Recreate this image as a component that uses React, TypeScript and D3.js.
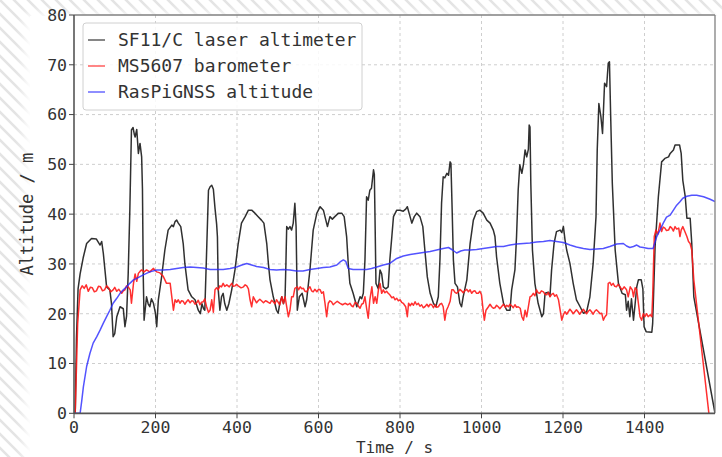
import React from "react";
import * as d3 from "d3";

const xTicks = [0, 200, 400, 600, 800, 1000, 1200, 1400];
const yTicks = [0, 10, 20, 30, 40, 50, 60, 70, 80];
const seriesNames = ["SF11/C laser altimeter", "MS5607 barometer", "RasPiGNSS altitude"];

const laser: [number, number][] = [[0,0],[3,0],[6,15],[10,25],[15,28],[23,31.4],[31,34.1],[43,35.1],[55,35],[64,33.8],[68,34.5],[72,32.1],[80,25.4],[88,24.8],[92,22],[96,15.4],[100,16],[105,19.4],[113,21.4],[121,21],[125,17.4],[129,19.5],[133,28],[137,40.8],[141,56.9],[145,57.4],[148,56],[150,55.5],[154,57],[158,52.2],[162,54.2],[166,51.5],[168,45],[170,27.4],[172,18.7],[178,23.4],[182,22],[186,21.4],[190,23],[195,22.1],[200,20],[203,17.4],[207,22.8],[215,27.4],[223,32.8],[231,36.8],[240,37.8],[244,37.5],[248,38.5],[252,38.8],[256,38.2],[262,37.5],[268,34.1],[272,30.1],[280,24.8],[289,23.4],[297,22.8],[305,20.7],[310,20],[314,22],[318,21],[321,20.7],[326,34],[330,44.8],[334,45.5],[338,45.8],[342,45],[346,41.2],[350,38],[352,35.4],[354,24.8],[358,20.7],[362,23.4],[366,24.1],[370,22],[375,20.7],[380,22],[387,24.8],[395,28.8],[403,34.1],[411,38.2],[420,39.5],[428,40.8],[436,40.8],[444,40.2],[452,39.5],[460,38.8],[466,38.2],[473,34.1],[477,30.1],[481,26.8],[489,23.4],[497,20.7],[501,20.1],[505,22.1],[510,23.4],[514,22],[518,23.4],[520,30],[522,37.5],[526,37],[530,37.5],[534,36.8],[538,38.2],[542,42.2],[545,37.5],[548,20.7],[553,23.4],[560,24.1],[567,21.4],[571,22.8],[579,28.8],[587,36.8],[596,40.2],[604,41.5],[612,40.8],[618,38.8],[622,37.5],[628,39.5],[634,39],[640,39.5],[649,40.2],[657,40.2],[663,39.5],[669,35.5],[673,30.1],[677,26.1],[685,24.1],[694,21.4],[702,23.4],[706,23],[710,24.1],[714,30.8],[718,43.5],[722,42.8],[726,44.8],[730,45.2],[735,48.9],[737,48],[739,37.5],[741,26.1],[747,25],[751,28.8],[755,28],[759,25.4],[765,25],[771,25.4],[775,30.8],[780,35.5],[784,39.5],[792,40.8],[800,40.8],[808,40.6],[814,41],[818,41.5],[823,40],[829,38.2],[835,39.5],[841,40.2],[849,39.5],[856,37.5],[861,32.8],[867,27.4],[874,24.1],[882,22.1],[888,21.4],[894,23.4],[898,30.8],[902,42.2],[906,47.5],[910,47.3],[915,48.2],[919,47.8],[923,50.5],[925,50.2],[928,40.8],[931,30.8],[935,26.1],[941,25.4],[947,22.1],[951,21.4],[955,23.4],[964,26.8],[972,34.1],[980,38.8],[988,40.5],[996,40.8],[1004,40.2],[1013,38.8],[1021,38.2],[1029,36.8],[1033,35.5],[1037,31.4],[1045,26.1],[1054,22.1],[1062,20.7],[1070,20.7],[1074,24.8],[1082,28.8],[1086,35.5],[1090,44.8],[1094,49.9],[1099,48.2],[1103,50],[1107,52.9],[1111,51.5],[1115,53],[1117,57.9],[1119,57.5],[1121,46.2],[1125,32.8],[1131,26.1],[1139,22.1],[1148,19.4],[1152,20],[1156,24.1],[1164,24.3],[1168,23.5],[1172,28.8],[1178,34.1],[1184,36.5],[1193,36.8],[1197,36.3],[1201,37.5],[1205,34.8],[1209,32.8],[1217,30.1],[1225,26.1],[1233,22.8],[1242,21.4],[1250,20.1],[1258,20.4],[1266,23.4],[1274,30.1],[1281,39.5],[1284,52.9],[1288,62.2],[1293,59.6],[1297,56.2],[1302,66.3],[1307,65.6],[1311,70.3],[1314,70.6],[1317,59.6],[1321,46.2],[1328,32.8],[1336,26.1],[1345,24.1],[1353,23.8],[1356,20.7],[1360,22.5],[1364,19.4],[1368,23],[1373,18.7],[1377,22],[1381,25.4],[1385,26.8],[1392,26.8],[1396,25],[1399,17.4],[1404,16.4],[1418,16.3],[1420,18],[1426,33.5],[1434,43.5],[1442,50.5],[1450,51.2],[1459,51.5],[1463,52.2],[1471,52.9],[1475,53.9],[1486,53.9],[1490,52.2],[1494,46.8],[1500,43.5],[1504,39.2],[1512,39.2],[1516,34.1],[1521,23.4],[1573,0]];

const baro: [number, number][] = [[0,0],[3,0],[9,18],[15,24.8],[20,25.6],[25,25.1],[30,25.8],[35,24.5],[40,25.3],[45,25.2],[50,24.4],[55,24.6],[60,25.5],[65,25.4],[70,24.6],[75,24.8],[80,25.6],[85,25.2],[90,24.4],[96,24.8],[100,25.3],[105,24.5],[110,24.9],[117,24.1],[121,24.6],[125,24.8],[129,25.6],[133,25.4],[138,24.8],[141,22.1],[146,26.1],[150,28],[154,26.5],[158,28.1],[162,28.5],[166,28.8],[172,28.4],[178,28.8],[186,28.4],[195,29.1],[203,28.4],[211,28.2],[219,27.5],[227,26.1],[236,26.1],[240,23.4],[244,20.7],[248,22.8],[252,22.3],[256,22.8],[260,22.1],[264,22.6],[268,22.5],[272,21.9],[276,22.4],[280,22.8],[285,22.2],[289,22.6],[293,22.5],[297,21.9],[301,22.2],[305,22.7],[309,21.8],[313,22.3],[317,22.4],[321,23],[325,21.5],[330,20.3],[334,20.7],[338,22.8],[342,20.3],[346,24.8],[350,25.2],[354,24.8],[358,25.6],[362,25.4],[366,26.1],[370,25.5],[375,25.8],[381,25.4],[387,26.1],[391,25.5],[395,25.6],[399,25.9],[403,25.6],[410,25.2],[416,25.4],[420,25.8],[424,25.6],[428,25],[432,22.8],[436,21.4],[440,23.4],[444,22.8],[448,22.2],[452,22.6],[456,22.9],[460,22.6],[465,22.2],[470,22.6],[475,22.4],[481,22.1],[485,22.7],[489,22.4],[493,22],[497,22.8],[505,21.8],[510,23.4],[514,22.1],[518,23.4],[522,21.4],[526,19.4],[530,20.7],[534,23.4],[538,23.4],[542,25.1],[548,25.4],[551,24.8],[555,25.4],[559,25],[563,25.1],[567,24.5],[571,24.4],[575,25],[579,25.4],[583,24.6],[587,24.4],[591,24.9],[596,24.4],[600,24.9],[604,24.8],[608,24.1],[612,24.4],[616,22.1],[620,19.4],[624,22.1],[628,22.6],[632,22.4],[636,21.8],[640,22.1],[646,22.5],[653,22.1],[659,21.8],[665,22.1],[672,21.8],[677,22.1],[681,21.6],[685,21.4],[690,22.3],[694,22.1],[698,21.5],[702,21.1],[706,21.9],[710,22.1],[714,23.4],[718,21.1],[722,19.1],[726,22.8],[731,25.4],[735,22.1],[739,23.4],[743,22.1],[747,24.8],[751,26.1],[755,24.1],[759,24.8],[763,24.2],[767,24.5],[771,24.1],[775,23.8],[780,23.2],[784,23.4],[788,22.8],[792,23.1],[796,22.6],[800,22.8],[804,22.3],[808,22.1],[814,21.4],[818,19.4],[821,22.1],[825,21.6],[829,22.1],[833,21.7],[837,22.4],[841,21.8],[845,22.1],[849,21.5],[853,21.8],[857,21.2],[861,21.4],[866,21.9],[870,21.4],[874,21.9],[878,21.8],[882,21.2],[886,21.8],[890,21.3],[894,21.4],[898,21.9],[902,22.1],[906,21.4],[910,18.7],[914,20.7],[918,21.4],[923,22.5],[927,24.8],[931,24.8],[935,24.3],[939,24.1],[943,24.4],[947,24.9],[951,24.6],[955,24.2],[959,24.6],[964,24.9],[968,24.4],[972,24.8],[976,24.1],[980,24.5],[984,24.6],[988,24.1],[992,24.1],[996,24.5],[1000,23.8],[1004,20.7],[1007,18.7],[1011,20.7],[1017,21.4],[1021,21.9],[1025,21.4],[1029,21.1],[1033,21.2],[1037,21.7],[1041,21.4],[1045,21],[1050,21.5],[1054,21.9],[1058,21.3],[1062,21.7],[1066,21.4],[1070,21.9],[1074,21.6],[1078,21.2],[1082,21.8],[1086,21.3],[1090,21.4],[1095,21.1],[1099,19.4],[1103,18.7],[1107,20.7],[1111,19.4],[1115,21.4],[1119,23.4],[1123,23.6],[1127,24.1],[1131,23.6],[1135,24.8],[1139,24.2],[1143,24.1],[1147,24.6],[1152,24.4],[1156,23.9],[1160,23.8],[1164,24.3],[1168,23.4],[1172,23.9],[1176,24.1],[1180,23.5],[1184,23.8],[1189,22.8],[1193,20.7],[1197,18.7],[1201,19.8],[1205,20.4],[1209,19.9],[1213,20.4],[1217,20.9],[1221,20.5],[1225,20],[1229,20.4],[1233,20.8],[1237,20.4],[1241,19.9],[1246,20.5],[1250,20.9],[1254,20.4],[1258,20],[1262,20.5],[1266,20.8],[1270,20.4],[1274,19.9],[1278,20.5],[1282,20.8],[1287,20.4],[1291,20],[1295,20.1],[1299,18.7],[1303,19.4],[1307,19.8],[1311,26.1],[1315,26.3],[1319,25.7],[1323,26.1],[1327,25.5],[1331,25.4],[1335,25.9],[1340,25.4],[1345,24.8],[1350,25.4],[1356,24.8],[1360,23.4],[1365,25.4],[1370,24.8],[1373,23.4],[1377,25.2],[1381,24.8],[1385,22.1],[1389,19.4],[1393,18.7],[1397,20],[1401,19.4],[1405,20],[1409,19.4],[1414,19.8],[1418,19.4],[1420,23.4],[1424,35.5],[1428,36.8],[1433,36],[1438,38.2],[1442,36.5],[1446,37.4],[1450,37.2],[1454,36.7],[1459,36.8],[1463,37.5],[1467,37.2],[1471,36.6],[1475,37.5],[1479,37],[1484,37.2],[1487,35.5],[1490,36.8],[1494,37.5],[1499,36.5],[1504,35.5],[1508,34.5],[1512,34.1],[1516,32.8],[1521,26.8],[1558,0]];

const gnss: [number, number][] = [[0,0],[15,0],[19,2.5],[23,5.3],[31,9.4],[39,12],[47,14.1],[56,15.4],[64,16.7],[72,18.1],[80,19.4],[88,20.7],[96,22.1],[105,23.1],[113,24.1],[121,24.8],[129,25.4],[137,26.1],[146,26.8],[154,27.1],[170,27.8],[186,28.4],[203,28.8],[219,28.8],[236,28.9],[252,29.1],[268,29.3],[285,29.4],[301,29.3],[317,29.2],[334,28.9],[350,28.9],[366,28.9],[383,29.1],[399,29.4],[412,29.8],[424,30.1],[436,29.8],[448,29.5],[465,29.3],[481,28.9],[497,28.8],[514,28.9],[530,28.8],[546,28.6],[562,28.6],[579,28.9],[596,29.1],[612,29.3],[628,29.4],[645,29.8],[653,30.4],[661,30.8],[667,30.5],[673,29.1],[685,28.9],[702,28.9],[718,28.9],[730,29.1],[743,29.4],[759,29.8],[775,30.1],[792,31.1],[808,31.6],[825,31.9],[841,32.1],[857,32.3],[874,32.5],[890,32.8],[906,33.1],[919,33.3],[929,32.8],[939,32.2],[949,32.6],[959,32.8],[972,32.8],[988,32.9],[1004,33.1],[1021,33.3],[1037,33.5],[1054,33.5],[1070,33.8],[1086,34],[1103,34.1],[1119,34.2],[1135,34.4],[1152,34.5],[1168,34.7],[1184,34.5],[1201,34.3],[1217,33.8],[1233,33.4],[1250,33.1],[1266,32.9],[1283,33],[1299,33.1],[1315,33.5],[1332,34],[1348,34.1],[1356,33.6],[1364,33.3],[1373,33.5],[1381,33.8],[1389,33.4],[1397,33.3],[1409,33.1],[1421,33.1],[1430,35.5],[1438,36.8],[1446,38.2],[1454,39.4],[1463,39.8],[1471,40.8],[1479,41.8],[1487,42.5],[1494,43.2],[1504,43.6],[1516,43.8],[1528,43.8],[1545,43.5],[1561,43],[1573,42.5]];

const W = 722;
const H = 457;
const left = 74, right = 715, top = 15, bottom = 413.3;
const mono = "'DejaVu Sans Mono', monospace";

export default function App() {
  const x = d3.scaleLinear().domain([0, 1573]).range([left, right]);
  const y = d3.scaleLinear().domain([0, 80]).range([bottom, top]);
  const line = d3.line<[number, number]>().x((d) => x(d[0])).y((d) => y(d[1]));
  const series = [
    { data: laser, color: "#1a1a1a", op: 0.9 },
    { data: baro, color: "#ff1a1a", op: 0.9 },
    { data: gnss, color: "#2828ff", op: 0.8 },
  ];
  return (
    <svg width={W} height={H} style={{ position: "absolute", left: 0, top: 0, display: "block" }}>
      <defs>
        <pattern id="hatch" patternUnits="userSpaceOnUse" width="14" height="14">
          <rect width="14" height="14" fill="#ffffff" />
          <path d="M-2,-2 L16,16 M-2,12 L2,16 M12,-2 L16,2" stroke="#e4e4e4" strokeWidth="2.5" />
        </pattern>
        <filter id="soft" x="-5%" y="-5%" width="110%" height="110%">
          <feGaussianBlur stdDeviation="4" />
        </filter>
        <clipPath id="plotclip">
          <rect x={left} y={top} width={right - left} height={bottom - top} />
        </clipPath>
      </defs>
      <rect width={W} height={H} fill="url(#hatch)" />
      <rect x={24} y={13} width={W + 20} height={H + 20} fill="#fff" filter="url(#soft)" />
      <rect x={30} y={16} width={W} height={H} fill="#fff" />
      <rect x={left} y={top} width={right - left} height={bottom - top} fill="#fff" />
      {xTicks.slice(1).map((t) => (
        <line key={"gx" + t} x1={x(t)} x2={x(t)} y1={top} y2={bottom} stroke="#c8c8c8" strokeWidth={0.9} strokeDasharray="3,3" />
      ))}
      {yTicks.slice(1, -1).map((t) => (
        <line key={"gy" + t} x1={left} x2={right} y1={y(t)} y2={y(t)} stroke="#c8c8c8" strokeWidth={0.9} strokeDasharray="3,3" />
      ))}
      <g clipPath="url(#plotclip)">
        {series.map((s, i) => (
          <path key={i} d={line(s.data) || ""} fill="none" stroke={s.color} strokeOpacity={s.op} strokeWidth={1.5} strokeLinejoin="round" />
        ))}
      </g>
      <line x1={left} x2={right} y1={top} y2={top} stroke="#808080" strokeWidth={1.3} />
      <line x1={right} x2={right} y1={top} y2={bottom} stroke="#808080" strokeWidth={1.3} />
      <line x1={left} x2={left} y1={top} y2={bottom} stroke="#555" strokeWidth={1.6} />
      <line x1={left} x2={right} y1={bottom} y2={bottom} stroke="#555" strokeWidth={1.8} />
      {yTicks.map((t) => (
        <g key={"yt" + t}>
          <line x1={left - 5} x2={left} y1={y(t)} y2={y(t)} stroke="#444" strokeWidth={1} />
          <text x={left - 7} y={y(t)} dy="0.35em" textAnchor="end" fontFamily={mono} fontSize={16.5} fill="#333">{t}</text>
        </g>
      ))}
      {xTicks.map((t) => (
        <g key={"xt" + t}>
          <line x1={x(t)} x2={x(t)} y1={bottom} y2={bottom + 5} stroke="#444" strokeWidth={1} />
          <text x={x(t)} y={432.5} textAnchor="middle" fontFamily={mono} fontSize={16.5} fill="#333">{t}</text>
        </g>
      ))}
      <text x={(left + right) / 2} y={453} textAnchor="middle" fontFamily={mono} fontSize={16} fill="#333">Time / s</text>
      <text transform={`translate(33,${(top + bottom) / 2}) rotate(-90)`} textAnchor="middle" fontFamily={mono} fontSize={17} fill="#333">Altitude / m</text>
      <rect x={83} y={23} width={279} height={87} rx={3} fill="#fff" fillOpacity={0.85} stroke="#d0d0d0" strokeWidth={1} />
      {seriesNames.map((n, i) => {
        const yy = 40 + i * 26;
        return (
          <g key={n}>
            <line x1={88} x2={105} y1={yy} y2={yy} stroke={series[i].color} strokeOpacity={0.7} strokeWidth={1.5} />
            <text x={118} y={yy} dy="0.35em" fontFamily={mono} fontSize={18} fill="#333">{n}</text>
          </g>
        );
      })}
    </svg>
  );
}
